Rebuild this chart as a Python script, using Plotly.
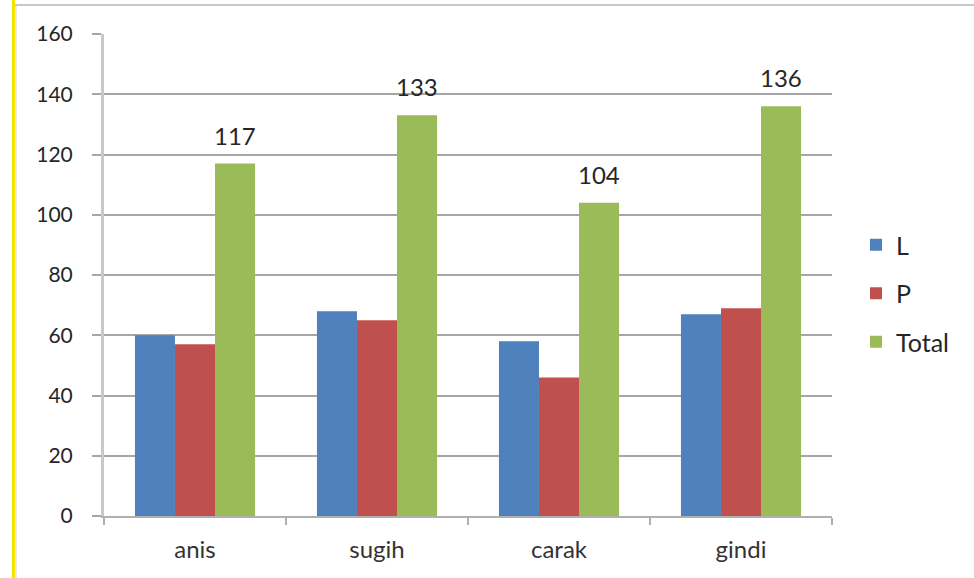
import plotly.graph_objects as go

# Jumlah per nama: L, P dan total
categories = ["anis", "sugih", "carak", "gindi"]
series_names = ["L", "P", "Total"]
values_L = [60, 68, 58, 67]
values_P = [57, 65, 46, 69]
values_total = [117, 133, 104, 136]
y_ticks = [0, 20, 40, 60, 80, 100, 120, 140, 160]

colors = ["#4F81BD", "#C0504D", "#9BBB59"]
font_family = "Lato, 'Open Sans', sans-serif"
text_color = "#262626"

W, H = 974, 578
ML, MR, MT, MB = 104, 142, 34, 62
plot_w = W - ML - MR
plot_h = H - MT - MB


def px_x(px):
    return (px - ML) / plot_w


def px_y(py):
    return (H - MB - py) / plot_h


fig = go.Figure()
for name, vals, col in zip(series_names, [values_L, values_P, values_total], colors):
    fig.add_trace(go.Bar(
        x=categories, y=vals, name=name,
        marker=dict(color=col, line=dict(width=0)),
        legendgroup=name,
    ))

# value labels above the Total bars (third bar in each group)
n_series = len(series_names)
bargap = 0.34
bar_w = (1 - bargap) / n_series
for i, v in enumerate(values_total):
    fig.add_annotation(
        x=i + bar_w, y=v, xref="x", yref="y",
        text=str(v), showarrow=False,
        yanchor="bottom", yshift=12,
        font=dict(family=font_family, size=24, color=text_color),
    )

shapes = [
    # left yellow edge
    dict(type="line", xref="paper", yref="paper",
         x0=px_x(13.5), x1=px_x(13.5), y0=px_y(0), y1=px_y(H),
         line=dict(color="#F2E600", width=3)),
    dict(type="line", xref="paper", yref="paper",
         x0=px_x(16), x1=px_x(16), y0=px_y(5), y1=px_y(H),
         line=dict(color="#D0D0D0", width=1)),
    # top border
    dict(type="line", xref="paper", yref="paper",
         x0=px_x(15), x1=px_x(W), y0=px_y(5), y1=px_y(5),
         line=dict(color="#C8C8C8", width=2)),
]

fig.update_layout(
    width=W, height=H,
    margin=dict(l=ML, r=MR, t=MT, b=MB, pad=0),
    paper_bgcolor="white", plot_bgcolor="white",
    barmode="group", bargap=bargap, bargroupgap=0,
    font=dict(family=font_family, size=20, color=text_color),
    showlegend=True,
    legend=dict(
        x=px_x(856), y=px_y(222), xanchor="left", yanchor="top",
        font=dict(family=font_family, size=25, color=text_color),
        tracegroupgap=13, itemwidth=30, bgcolor="rgba(0,0,0,0)",
    ),
    shapes=shapes,
    xaxis=dict(
        showgrid=False, showline=True, linecolor="#B0B0B0", linewidth=2,
        ticks="outside", tickson="boundaries", ticklen=7, tickcolor="#B0B0B0",
        tickwidth=2, ticklabelstandoff=11,
        tickfont=dict(size=24, family=font_family, color="#333333"),
        range=[-0.5, 3.5],
    ),
    yaxis=dict(
        range=[0, 160], tickvals=y_ticks, showgrid=True, gridcolor="#A6A6A6",
        gridwidth=2, showline=True, linecolor="#C8C8C8", linewidth=3,
        ticks="outside", ticklen=9, tickcolor="#A6A6A6", tickwidth=2,
        ticklabelstandoff=15,
        tickfont=dict(size=21, family=font_family, color=text_color),
        zeroline=False,
    ),
)

fig.write_html("out.html")
